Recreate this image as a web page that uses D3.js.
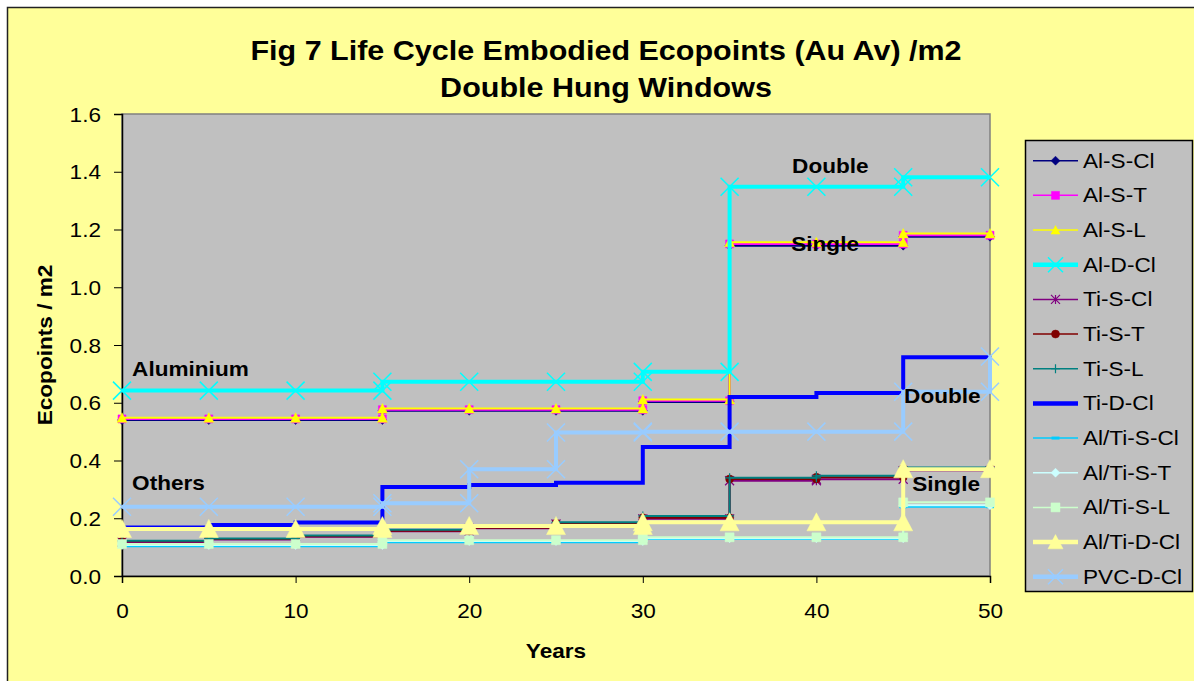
<!DOCTYPE html>
<html>
<head>
<meta charset="utf-8">
<title>Fig 7 Life Cycle Embodied Ecopoints</title>
<script src="https://cdn.jsdelivr.net/npm/d3@7"></script>
<style>
  html, body { margin: 0; padding: 0; background: #ffffff; }
  svg { display: block; font-family: 'Liberation Sans', Arial, sans-serif; }
</style>
</head>
<body>
<div id="chart"></div>
<script>
// Years on the x axis (one level per 5-year step)
const YEARS = [0, 5, 10, 15, 20, 25, 30, 35, 40, 45, 50];

// Ecopoints / m2, level from each year onwards
const AL_S_CL    = [0.540, 0.540, 0.540, 0.572, 0.572, 0.572, 0.603, 1.144, 1.144, 1.175, 1.175];
const AL_S_T     = [0.544, 0.544, 0.544, 0.576, 0.576, 0.576, 0.607, 1.150, 1.150, 1.180, 1.180];
const AL_S_L     = [0.548, 0.548, 0.548, 0.580, 0.580, 0.580, 0.611, 1.156, 1.156, 1.186, 1.186];
const AL_D_CL    = [0.642, 0.642, 0.642, 0.673, 0.673, 0.673, 0.707, 1.348, 1.348, 1.381, 1.381];
const TI_S_CL    = [0.118, 0.126, 0.136, 0.155, 0.165, 0.180, 0.198, 0.330, 0.335, 0.365, 0.365];
const TI_S_T     = [0.120, 0.128, 0.138, 0.157, 0.167, 0.183, 0.202, 0.336, 0.342, 0.372, 0.372];
const TI_S_L     = [0.122, 0.130, 0.140, 0.160, 0.170, 0.186, 0.208, 0.340, 0.347, 0.376, 0.376];
const TI_D_CL    = [0.168, 0.177, 0.185, 0.308, 0.315, 0.323, 0.447, 0.620, 0.634, 0.758, 0.760];
const ALTI_S_CL  = [0.103, 0.103, 0.103, 0.117, 0.117, 0.117, 0.128, 0.128, 0.128, 0.240, 0.240];
const ALTI_S_T   = [0.107, 0.107, 0.107, 0.121, 0.121, 0.121, 0.131, 0.131, 0.131, 0.245, 0.245];
const ALTI_S_L   = [0.111, 0.111, 0.111, 0.124, 0.124, 0.124, 0.134, 0.134, 0.134, 0.255, 0.255];
const ALTI_D_CL  = [0.163, 0.163, 0.163, 0.173, 0.173, 0.173, 0.186, 0.186, 0.186, 0.370, 0.370];
const PVC_D_CL   = [0.240, 0.240, 0.240, 0.252, 0.370, 0.497, 0.500, 0.500, 0.500, 0.638, 0.760];

const SERIES_NAMES = ['Al-S-Cl', 'Al-S-T', 'Al-S-L', 'Al-D-Cl', 'Ti-S-Cl', 'Ti-S-T', 'Ti-S-L',
                      'Ti-D-Cl', 'Al/Ti-S-Cl', 'Al/Ti-S-T', 'Al/Ti-S-L', 'Al/Ti-D-Cl', 'PVC-D-Cl'];
const SERIES_VALUES = [AL_S_CL, AL_S_T, AL_S_L, AL_D_CL, TI_S_CL, TI_S_T, TI_S_L,
                       TI_D_CL, ALTI_S_CL, ALTI_S_T, ALTI_S_L, ALTI_D_CL, PVC_D_CL];

// Axis ticks
const Y_TICKS = [0, 0.2, 0.4, 0.6, 0.8, 1.0, 1.2, 1.4, 1.6];
const X_TICKS = [0, 10, 20, 30, 40, 50];

// In-plot annotations (anchored in data units: year, ecopoints)
const NOTE_TEXT  = ['Aluminium', 'Others', 'Double', 'Single', 'Double', 'Single'];
const NOTE_YEAR  = [0.58, 0.58, 38.6, 38.55, 45.05, 45.52];
const NOTE_VALUE = [0.694, 0.298, 1.397, 1.126, 0.598, 0.295];

document.addEventListener('DOMContentLoaded', () => {
    (function() {
        const W = 1194, H = 681;
        const SX = 1.13;          // the original is a little stretched horizontally
        const FONT = 20;

        const PLOT = { left: 122, top: 114, right: 990, bottom: 576 };

        const STYLES = {
            'Al-S-Cl':    { color: '#000080', width: 2, marker: 'diamond',  size: 4.5 },
            'Al-S-T':     { color: '#FF00FF', width: 2, marker: 'square',   size: 4 },
            'Al-S-L':     { color: '#FFFF00', width: 2, marker: 'triangle', size: 5 },
            'Al-D-Cl':    { color: '#00FFFF', width: 4, marker: 'x',        size: 9 },
            'Ti-S-Cl':    { color: '#800080', width: 2, marker: 'asterisk', size: 4.5 },
            'Ti-S-T':     { color: '#800000', width: 2, marker: 'circle',   size: 4 },
            'Ti-S-L':     { color: '#008080', width: 2, marker: 'plus',     size: 4.5 },
            'Ti-D-Cl':    { color: '#0000FF', width: 4, marker: null,       size: 0 },
            'Al/Ti-S-Cl': { color: '#00CCFF', width: 2, marker: 'dash',     size: 4 },
            'Al/Ti-S-T':  { color: '#CCFFFF', width: 2, marker: 'diamond',  size: 4.5 },
            'Al/Ti-S-L':  { color: '#CCFFCC', width: 2, marker: 'square',   size: 4.5 },
            'Al/Ti-D-Cl': { color: '#FFFF99', width: 4, marker: 'triangle', size: 9.5 },
            'PVC-D-Cl':   { color: '#99CCFF', width: 4, marker: 'x',        size: 9 }
        };

        const series = SERIES_NAMES.map((name, i) => ({ name, values: SERIES_VALUES[i], style: STYLES[name] }));

        const svg = d3.select('#chart')
            .append('svg')
            .attr('width', W)
            .attr('height', H);

        // Chart area
        svg.append('rect')
            .attr('x', 7.5).attr('y', 7.5)
            .attr('width', W + 20).attr('height', H + 20)
            .attr('fill', '#FFFF99')
            .attr('stroke', '#222')
            .attr('stroke-width', 1.5);

        // Scales
        const x = d3.scaleLinear().domain([0, 50]).range([PLOT.left, PLOT.right]);
        const y = d3.scaleLinear().domain([0, 1.6]).range([PLOT.bottom, PLOT.top]);

        // Plot area
        svg.append('rect')
            .attr('x', PLOT.left).attr('y', PLOT.top)
            .attr('width', PLOT.right - PLOT.left).attr('height', PLOT.bottom - PLOT.top)
            .attr('fill', '#C0C0C0')
            .attr('stroke', '#808080')
            .attr('stroke-width', 1.5);

        /**
         * Text helper, stretched like the source picture
         */
        function addText(parent, tx, ty, str, opts = {}) {
            return parent.append('text')
                .attr('transform', `translate(${tx},${ty}) ${opts.rotate ? `rotate(${opts.rotate})` : ''} scale(${SX},1)`)
                .attr('text-anchor', opts.anchor || 'start')
                .style('font-size', (opts.size || FONT) + 'px')
                .style('font-weight', opts.bold ? 'bold' : 'normal')
                .attr('fill', '#000')
                .text(str);
        }

        // Title
        addText(svg, 606, 60, 'Fig 7 Life Cycle Embodied Ecopoints (Au Av) /m2', { anchor: 'middle', bold: true, size: 27 });
        addText(svg, 606, 97, 'Double Hung Windows', { anchor: 'middle', bold: true, size: 27 });

        // Axes
        const yAxis = svg.append('g')
            .attr('transform', `translate(${PLOT.left},0)`)
            .call(d3.axisLeft(y).tickValues(Y_TICKS).tickSize(8).tickPadding(0).tickFormat(d3.format('.1f')));
        yAxis.selectAll('.tick line').attr('stroke', '#000');
        yAxis.select('.domain').attr('stroke', '#000').attr('stroke-width', 1.5);
        yAxis.selectAll('text')
            .attr('x', null).attr('dy', null)
            .attr('transform', `translate(-21,7) scale(${SX},1)`)
            .style('font-size', FONT + 'px')
            .style('font-family', "'Liberation Sans', Arial, sans-serif")
            .attr('fill', '#000');

        const xAxis = svg.append('g')
            .attr('transform', `translate(0,${PLOT.bottom})`)
            .call(d3.axisBottom(x).tickValues(X_TICKS).tickSize(7).tickPadding(0));
        xAxis.selectAll('.tick line').attr('stroke', '#000');
        xAxis.select('.domain').attr('stroke', '#000').attr('stroke-width', 1.5);
        xAxis.selectAll('text')
            .attr('y', null).attr('dy', null)
            .attr('transform', `translate(0,42) scale(${SX},1)`)
            .style('font-size', FONT + 'px')
            .style('font-family', "'Liberation Sans', Arial, sans-serif")
            .attr('fill', '#000');

        // Axis titles
        addText(svg, (PLOT.left + PLOT.right) / 2, 658, 'Years', { anchor: 'middle', bold: true });
        svg.append('text')
            .attr('transform', `translate(52,${(PLOT.top + PLOT.bottom) / 2}) rotate(-90) scale(${SX},1)`)
            .attr('text-anchor', 'middle')
            .style('font-size', FONT + 'px')
            .style('font-weight', 'bold')
            .text('Ecopoints / m2');

        /**
         * Builds step points: horizontal to the next year, then vertical jump
         */
        function stepPoints(values) {
            const pts = [];
            values.forEach((v, i) => {
                if (i > 0 && values[i - 1] !== v) pts.push([YEARS[i], values[i - 1]]);
                pts.push([YEARS[i], v]);
            });
            return pts;
        }

        /**
         * Marker path generator
         */
        function markerPath(type, s) {
            switch (type) {
                case 'diamond':  return `M0,${-s}L${s},0L0,${s}L${-s},0Z`;
                case 'square':   return `M${-s},${-s}H${s}V${s}H${-s}Z`;
                case 'triangle': return `M0,${-s}L${s},${s * 0.9}L${-s},${s * 0.9}Z`;
                case 'circle':   return `M${s},0A${s},${s} 0 1,1 ${-s},0A${s},${s} 0 1,1 ${s},0Z`;
                case 'x':        return `M${-s},${-s}L${s},${s}M${-s},${s}L${s},${-s}`;
                case 'plus':     return `M${-s},0H${s}M0,${-s}V${s}`;
                case 'asterisk': return `M${-s},${-s}L${s},${s}M${-s},${s}L${s},${-s}M0,${-s}V${s}`;
                case 'dash':     return `M${-s},0H${s}`;
                default:         return '';
            }
        }
        const FILLED = new Set(['diamond', 'square', 'triangle', 'circle']);

        function drawMarker(parent, st, cx, cy, s) {
            const filled = FILLED.has(st.marker);
            parent.append('path')
                .attr('transform', `translate(${cx},${cy})`)
                .attr('d', markerPath(st.marker, s))
                .attr('fill', filled ? st.color : 'none')
                .attr('stroke', st.color)
                .attr('stroke-width', filled ? 0.5 : (st.marker === 'dash' ? 3 : (st.width > 2 ? 1.5 : 1.2)));
        }

        const line = d3.line().x(d => x(d[0])).y(d => y(d[1]));
        const seriesG = svg.append('g').attr('class', 'series');

        series.forEach(s => {
            const pts = stepPoints(s.values);
            const g = seriesG.append('g');
            g.append('path')
                .datum(pts)
                .attr('d', line)
                .attr('fill', 'none')
                .attr('stroke', s.style.color)
                .attr('stroke-width', s.style.width)
                .attr('stroke-linejoin', 'miter');
            if (s.style.marker) {
                pts.forEach(p => drawMarker(g, s.style, x(p[0]), y(p[1]), s.style.size));
            }
        });

        // Annotations
        NOTE_TEXT.forEach((t, i) => addText(svg, x(NOTE_YEAR[i]), y(NOTE_VALUE[i]), t, { bold: true }));

        // Legend
        const legend = svg.append('g').attr('class', 'legend');
        legend.append('rect')
            .attr('x', 1025.5).attr('y', 140.5)
            .attr('width', 167).attr('height', 451)
            .attr('fill', '#C0C0C0')
            .attr('stroke', '#000')
            .attr('stroke-width', 1.5);

        series.forEach((s, i) => {
            const cy = 160.7 + i * 34.67;
            legend.append('line')
                .attr('x1', 1033).attr('x2', 1078)
                .attr('y1', cy).attr('y2', cy)
                .attr('stroke', s.style.color)
                .attr('stroke-width', s.style.width === 4 ? 4.5 : 1.5);
            if (s.style.marker) {
                const ms = s.style.size > 8 ? 7.5 : Math.min(s.style.size, 4.5);
                drawMarker(legend, s.style, 1055.5, cy, ms);
            }
            addText(legend, 1083, cy + 7, s.name);
        });
    })();
});
</script>
</body>
</html>
